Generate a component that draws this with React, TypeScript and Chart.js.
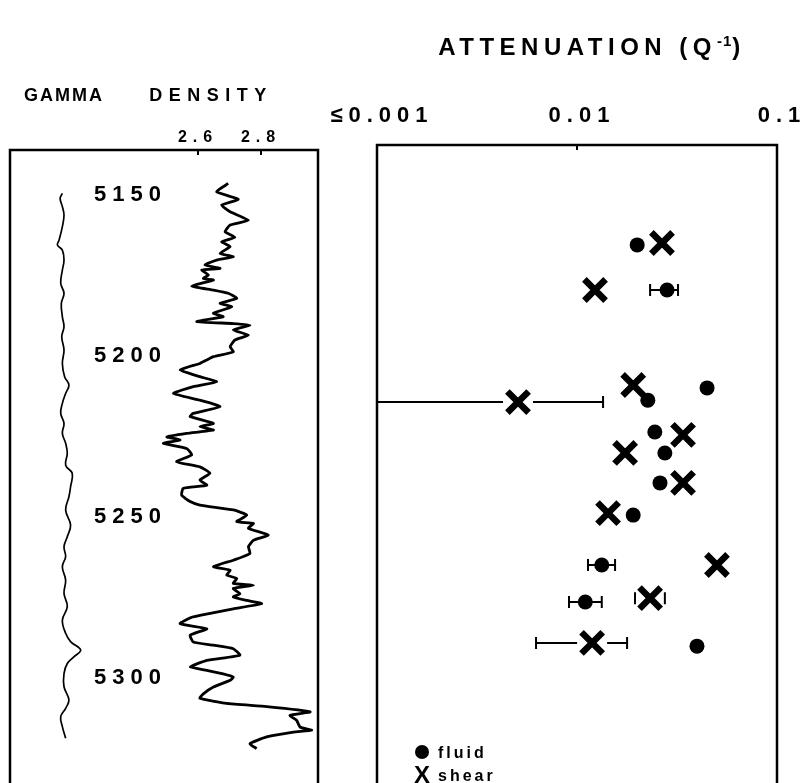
import React, { useEffect, useRef } from 'react';
import { Chart, registerables } from 'chart.js';

Chart.register(...registerables);

const FONT = '"Liberation Sans", Arial, Helvetica, sans-serif';

// ---- axes / tick labels ----
const depthTicks = [5150, 5200, 5250, 5300];
const densityTicks = [2.6, 2.8];
const attenTicks = [0.001, 0.01, 0.1];
const attenTickLabels = ['≤0.001', '0.01', '0.1'];

// ---- density log (g/cc) vs depth ----
const densityDepth = [
  5146.4, 5149.0, 5151.3, 5153.1, 5155.2, 5157.8, 5159.3, 5161.4, 5163.1, 5164.5,
  5166.0, 5168.1, 5169.2, 5170.2, 5171.7, 5172.8, 5173.3, 5174.8, 5175.9, 5176.4,
  5178.3, 5179.5, 5180.5, 5182.1, 5183.6, 5184.7, 5186.7, 5187.8, 5189.3, 5189.9,
  5190.4, 5191.9, 5193.5, 5195.0, 5197.1, 5198.7, 5200.2, 5201.2, 5202.3, 5204.3,
  5206.4, 5208.0, 5209.5, 5211.6, 5213.7, 5215.7, 5217.8, 5218.8, 5220.9, 5221.9,
  5223.0, 5224.0, 5225.1, 5226.1, 5227.1, 5228.7, 5230.7, 5232.8, 5234.4,
  5236.4, 5238.5, 5240.1, 5241.1, 5243.2, 5245.2, 5246.3, 5247.8, 5249.4, 5251.4,
  5252.0, 5253.5, 5255.6, 5257.2, 5259.2, 5261.3, 5263.4, 5265.4, 5266.5, 5268.0,
  5269.1, 5270.6, 5271.2, 5272.2, 5273.8, 5274.8, 5275.9, 5276.9, 5278.5, 5280.5,
  5281.1, 5283.1, 5284.7, 5286.7, 5288.8, 5289.8, 5290.9, 5292.9, 5294.5, 5296.6,
  5297.6, 5298.7, 5299.7, 5300.7, 5302.8, 5304.9, 5306.3, 5307.9, 5308.9, 5310.5,
  5311.6, 5313.1, 5315.2, 5316.2, 5316.8, 5318.3, 5320.4, 5321.9,
];
const densityValue = [
  2.696, 2.659, 2.728, 2.675, 2.702, 2.760, 2.702, 2.686, 2.717, 2.675,
  2.702, 2.670, 2.712, 2.659, 2.622, 2.670, 2.612, 2.633, 2.617, 2.649,
  2.580, 2.649, 2.696, 2.723, 2.670, 2.707, 2.649, 2.680, 2.596, 2.712,
  2.765, 2.712, 2.760, 2.717, 2.702, 2.712, 2.649, 2.628, 2.606, 2.543,
  2.606, 2.659, 2.585, 2.522, 2.606, 2.670, 2.585, 2.575, 2.649, 2.606,
  2.649, 2.564, 2.501, 2.543, 2.490, 2.564, 2.580, 2.532, 2.606,
  2.638, 2.606, 2.628, 2.553, 2.548, 2.575, 2.606, 2.712, 2.755, 2.723,
  2.776, 2.760, 2.823, 2.776, 2.760, 2.765, 2.712, 2.649, 2.702, 2.691,
  2.723, 2.712, 2.776, 2.712, 2.733, 2.712, 2.755, 2.802, 2.712, 2.606,
  2.580, 2.543, 2.628, 2.575, 2.585, 2.649, 2.712, 2.733, 2.628, 2.575,
  2.628, 2.680, 2.712, 2.702, 2.649, 2.617, 2.606, 2.691, 2.818, 2.956,
  2.892, 2.913, 2.924, 2.961, 2.903, 2.818, 2.765, 2.786,
];

// ---- gamma log (API, unlabeled) vs depth ----
const gammaDepth = [
  5149.5, 5151.0, 5153.6, 5156.2, 5159.8, 5164.0, 5165.5, 5167.1, 5170.2, 5173.3,
  5177.4, 5180.5, 5183.6, 5187.8, 5190.9, 5194.0, 5198.1, 5202.3, 5206.4, 5209.0,
  5211.6, 5214.7, 5217.8, 5220.9, 5224.0, 5227.1, 5230.2, 5233.9, 5236.4, 5240.6,
  5243.7, 5247.8, 5252.5, 5256.1, 5259.2, 5262.3, 5265.4, 5269.6, 5273.7, 5277.8,
  5282.0, 5286.1, 5288.7, 5291.3, 5293.4, 5295.5, 5298.6, 5302.7, 5306.8, 5309.4,
  5312.0, 5315.1, 5318.7,
];
const gammaValue = [
  25.5, 24.4, 25.5, 26.3, 25.5, 23.9, 23.1, 25.5, 26.3, 25.5,
  24.7, 26.3, 25.0, 25.5, 26.3, 25.2, 26.3, 25.5, 26.6, 28.7,
  27.1, 25.5, 24.7, 26.3, 25.5, 27.1, 27.9, 27.1, 30.3, 29.5,
  28.7, 27.1, 29.5, 27.9, 26.3, 27.1, 25.5, 27.1, 26.3, 27.9,
  25.5, 27.1, 29.5, 34.4, 31.1, 27.9, 26.3, 26.3, 28.7, 27.1,
  24.7, 25.5, 27.1,
];

// ---- attenuation measurements ----
const fluidDepth = [5165.5, 5179.5, 5213.7, 5209.9, 5223.6, 5230.1, 5239.4, 5249.4, 5264.9, 5276.4, 5290.1];
const fluidQ = [0.0200, 0.0282, 0.0226, 0.0447, 0.0245, 0.0275, 0.0260, 0.0191, 0.0133, 0.0110, 0.0398];
const fluidQLow = [null, 0.0232, null, null, null, null, null, null, 0.01135, 0.00912, null];
const fluidQHigh = [null, 0.0320, null, null, null, null, null, null, 0.0155, 0.0133, null];

const shearDepth = [5164.9, 5179.5, 5214.3, 5209.0, 5224.5, 5230.1, 5239.4, 5248.8, 5264.9, 5275.2, 5289.1];
const shearQ = [0.0266, 0.0123, 0.00507, 0.0191, 0.0339, 0.0174, 0.0339, 0.0143, 0.0501, 0.0232, 0.0119];
const shearQLow = [null, null, 0.001, null, null, null, null, null, null, 0.0195, 0.00624];
const shearQHigh = [null, null, 0.0135, null, null, null, null, null, null, 0.0275, 0.0178];

const H = 783;

function framePlugin(axisId: string, spacing: string) {
  return {
    id: 'frame_' + axisId,
    beforeUpdate(chart: any) { chart.ctx.letterSpacing = spacing; },
    beforeDraw(chart: any) { chart.ctx.letterSpacing = spacing; },
    afterDraw(chart: any) {
      const { ctx, chartArea: a } = chart;
      const sc = chart.scales[axisId];
      ctx.save();
      ctx.strokeStyle = '#000';
      ctx.lineWidth = 2.5;
      ctx.lineJoin = 'miter';
      ctx.beginPath();
      ctx.moveTo(a.left, a.bottom + 5);
      ctx.lineTo(a.left, a.top);
      ctx.lineTo(a.right, a.top);
      ctx.lineTo(a.right, a.bottom + 5);
      ctx.stroke();
      ctx.lineWidth = 2;
      ctx.beginPath();
      sc.ticks.forEach((t: any) => {
        const p = sc.getPixelForValue(t.value);
        ctx.moveTo(p, a.top);
        ctx.lineTo(p, a.top + 5);
      });
      ctx.stroke();
      ctx.restore();
    },
  };
}

const errorBarPlugin = {
  id: 'errorBars',
  beforeDatasetsDraw(chart: any) {
    const { ctx } = chart;
    const x = chart.scales.x;
    const y = chart.scales.y;
    ctx.save();
    ctx.strokeStyle = '#000';
    ctx.lineWidth = 2;
    const draw = (depths: number[], vals: number[], lows: any[], highs: any[], gap: number) => {
      depths.forEach((d, i) => {
        const lo = lows[i];
        const hi = highs[i];
        if (lo == null || hi == null) return;
        const py = y.getPixelForValue(d);
        const px = x.getPixelForValue(vals[i]);
        const pl = x.getPixelForValue(lo);
        const ph = x.getPixelForValue(hi);
        ctx.beginPath();
        if (px - gap > pl) { ctx.moveTo(pl, py); ctx.lineTo(px - gap, py); }
        if (px + gap < ph) { ctx.moveTo(px + gap, py); ctx.lineTo(ph, py); }
        ctx.moveTo(pl, py - 6); ctx.lineTo(pl, py + 6);
        ctx.moveTo(ph, py - 6); ctx.lineTo(ph, py + 6);
        ctx.stroke();
      });
    };
    draw(fluidDepth, fluidQ, fluidQLow, fluidQHigh, 0);
    draw(shearDepth, shearQ, shearQLow, shearQHigh, 15);
    ctx.restore();
  },
};

export default function App() {
  const leftRef = useRef<HTMLCanvasElement>(null);
  const rightRef = useRef<HTMLCanvasElement>(null);

  useEffect(() => {
    const left = new Chart(leftRef.current as HTMLCanvasElement, {
      type: 'scatter',
      data: {
        datasets: [
          {
            label: 'GAMMA',
            data: gammaDepth.map((d, i) => ({ x: gammaValue[i], y: d })),
            xAxisID: 'xg',
            yAxisID: 'y',
            showLine: true,
            borderColor: '#000',
            borderWidth: 1.7,
            pointRadius: 0,
            tension: 0.4,
          },
          {
            label: 'DENSITY',
            data: densityDepth.map((d, i) => ({ x: densityValue[i], y: d })),
            xAxisID: 'xd',
            yAxisID: 'y',
            showLine: true,
            borderColor: '#000',
            borderWidth: 2.8,
            borderJoinStyle: 'round',
            pointRadius: 0,
            tension: 0.15,
          },
        ],
      } as any,
      options: {
        responsive: false,
        maintainAspectRatio: false,
        animation: false,
        events: [],
        layout: { autoPadding: false, padding: { top: 110, left: 10, right: 22, bottom: 0 } },
        plugins: { legend: { display: false }, tooltip: { enabled: false } },
        scales: {
          xd: {
            type: 'linear',
            position: 'top',
            min: 2.003,
            max: 2.981,
            afterBuildTicks: (s: any) => { s.ticks = densityTicks.map((v) => ({ value: v })); },
            afterFit: (s: any) => { s.height = 40; s.paddingLeft = 0; s.paddingRight = 0; },
            grid: { display: false, drawTicks: false },
            border: { display: false },
            ticks: {
              color: '#000',
              padding: 3,
              maxRotation: 0,
              autoSkip: false,
              font: { family: FONT, size: 16, weight: 'bold' },
              callback: (v: any) => Number(v).toFixed(1),
            },
          },
          xg: { type: 'linear', display: false, min: 0, max: 150 },
          y: {
            type: 'linear',
            position: 'left',
            reverse: true,
            min: 5136.0,
            max: 5332.6,
            afterBuildTicks: (s: any) => { s.ticks = depthTicks.map((v) => ({ value: v })); },
            afterFit: (s: any) => { s.width = 0; s.paddingTop = 0; s.paddingBottom = 0; },
            grid: { display: false, drawTicks: false },
            border: { display: false },
            ticks: {
              mirror: true,
              padding: 84,
              color: '#000',
              autoSkip: false,
              font: { family: FONT, size: 22, weight: 'bold' },
              callback: (v: any) => String(v),
            },
          },
        },
      } as any,
      plugins: [framePlugin('xd', '6px')],
    });

    const right = new Chart(rightRef.current as HTMLCanvasElement, {
      type: 'scatter',
      data: {
        datasets: [
          {
            label: 'fluid',
            data: fluidDepth.map((d, i) => ({ x: fluidQ[i], y: d })),
            pointStyle: 'circle',
            pointRadius: 7.5,
            backgroundColor: '#000',
            borderColor: '#000',
            borderWidth: 0,
          },
          {
            label: 'shear',
            data: shearDepth.map((d, i) => ({ x: shearQ[i], y: d })),
            pointStyle: 'crossRot',
            pointRadius: 15,
            backgroundColor: '#000',
            borderColor: '#000',
            borderWidth: 6.5,
          },
        ],
      } as any,
      options: {
        responsive: false,
        maintainAspectRatio: false,
        animation: false,
        events: [],
        layout: { autoPadding: false, padding: { top: 85, left: 77, right: 24, bottom: 0 } },
        plugins: { legend: { display: false }, tooltip: { enabled: false } },
        scales: {
          x: {
            type: 'logarithmic',
            position: 'top',
            min: 0.001,
            max: 0.1,
            afterBuildTicks: (s: any) => { s.ticks = attenTicks.map((v) => ({ value: v })); },
            afterFit: (s: any) => { s.height = 60; s.paddingLeft = 0; s.paddingRight = 0; },
            grid: { display: false, drawTicks: false },
            border: { display: false },
            ticks: {
              color: '#000',
              padding: 16,
              labelOffset: 5,
              maxRotation: 0,
              autoSkip: false,
              font: { family: FONT, size: 22, weight: 'bold' },
              callback: (_v: any, i: number) => attenTickLabels[i],
            },
          },
          y: {
            type: 'linear',
            display: false,
            reverse: true,
            min: 5134.47,
            max: 5332.6,
          },
        },
      } as any,
      plugins: [framePlugin('x', '6px'), errorBarPlugin],
    });

    return () => {
      left.destroy();
      right.destroy();
    };
  }, []);

  const bold = { fontFamily: FONT, fontWeight: 'bold' as const, color: '#000', position: 'absolute' as const, whiteSpace: 'nowrap' as const };

  return (
    <div style={{ position: 'absolute', left: 0, top: 0, width: 801, height: H, overflow: 'hidden', background: '#fff' }}>
      <canvas ref={leftRef} width={340} height={H} style={{ position: 'absolute', left: 0, top: 0 }} />
      <canvas ref={rightRef} width={501} height={H} style={{ position: 'absolute', left: 300, top: 0 }} />

      <div style={{ ...bold, left: 4, width: 120, top: 86, fontSize: 18, lineHeight: '18px', letterSpacing: '2px', textAlign: 'center' }}>GAMMA</div>
      <div style={{ ...bold, left: 136, width: 150, top: 86, fontSize: 18, lineHeight: '18px', letterSpacing: '6.5px', textAlign: 'center' }}>DENSITY</div>
      <div style={{ ...bold, left: 392, width: 400, top: 35, fontSize: 24, lineHeight: '24px', letterSpacing: '5.5px', textAlign: 'center' }}>
        ATTENUATION (Q<span style={{ fontSize: 15, position: 'relative', top: -9, letterSpacing: '1px' }}>-1</span>)
      </div>

      <div style={{ position: 'absolute', left: 415, top: 745, width: 14, height: 14, borderRadius: '50%', background: '#000' }} />
      <div style={{ ...bold, left: 438, top: 745, fontSize: 16, lineHeight: '16px', letterSpacing: '3px' }}>fluid</div>
      <div style={{ ...bold, left: 414, top: 763, fontSize: 24, lineHeight: '24px' }}>X</div>
      <div style={{ ...bold, left: 438, top: 768, fontSize: 16, lineHeight: '16px', letterSpacing: '3px' }}>shear</div>
    </div>
  );
}
